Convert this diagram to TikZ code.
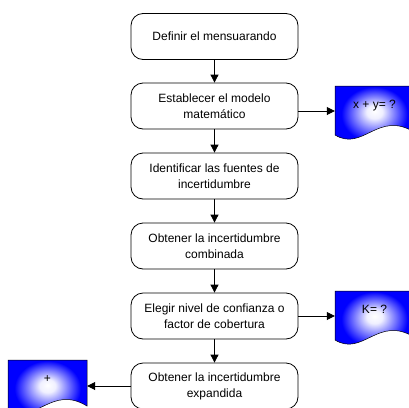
\documentclass[tikz,border=0pt]{standalone}
\usepackage{fontspec}
\setmainfont{Liberation Sans}
\usetikzlibrary{arrows.meta}

\pgfdeclareradialshading{brillo}{\pgfpoint{0bp}{6bp}}{color(0bp)=(white);
  color(5bp)=(blue!6!white); color(21bp)=(blue); color(50bp)=(blue)}

\tikzset{
  paso/.style={draw,rounded corners=12pt,line width=0.8pt,minimum width=167pt,
    minimum height=46pt,align=center,inner sep=2pt},
  hoja/.style={minimum width=79pt,minimum height=50pt,inner sep=0pt,
    text height=9pt,text depth=14pt},
  flecha/.style={-{Triangle[length=8pt,width=8pt]},line width=0.8pt}
}
% hoja de datos con borde inferior ondulado
\newcommand\hojaforma[2]{%
  \shade[shift={(#1,#2)},shading=brillo,draw=black,line width=0.5pt]
    (0,0) -- (79,0) -- (79,46) .. controls (43,24) and (28,66) .. (0,49) -- cycle;}

\begin{document}
\begin{tikzpicture}[x=1pt,y=-1pt,font=\fontsize{12}{16}\selectfont]
    \useasboundingbox (0,0) rectangle (409,407);

    \hojaforma{335}{86}
    \hojaforma{335}{291}
    \hojaforma{8}{360}

    \node[paso] (definir) at (214.5,36.5) {Definir el mensuarando};
    \node[paso] (modelo) at (214.5,106) {Establecer el modelo\\matemático};
    \node[paso] (fuentes) at (214.5,176) {Identificar las fuentes de\\incertidumbre};
    \node[paso] (combinada) at (214.5,246) {Obtener la incertidumbre\\combinada};
    \node[paso] (nivel) at (214.5,316) {Elegir nivel de confianza o\\factor de cobertura};
    \node[paso] (expandida) at (214.5,386) {Obtener la incertidumbre\\expandida};

    \node[hoja] (ecuacion) at (374.5,111) {x + y= ?};
    \node[hoja] (k) at (374.5,316) {K= ?};
    \node[hoja] (resultado) at (47.5,385) {+};

    \path[flecha] (definir) edge (modelo);
    \path[flecha] (modelo) edge (fuentes);
    \path[flecha] (fuentes) edge (combinada);
    \path[flecha] (combinada) edge (nivel);
    \path[flecha] (nivel) edge (expandida);

    \draw[flecha] (modelo.east |- ecuacion.west) -- (ecuacion.west);
    \draw[flecha] (nivel.east) -- (k.west);
    \draw[flecha] (expandida.west) -- (resultado.east |- expandida.west);
  \end{tikzpicture}
\end{document}
